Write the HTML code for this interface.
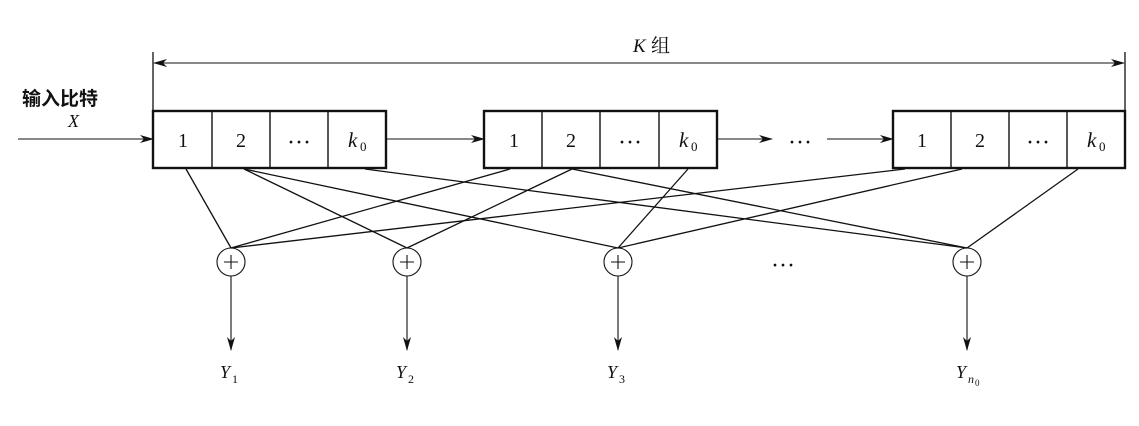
<!DOCTYPE html>
<html><head><meta charset="utf-8"><style>
html,body{margin:0;padding:0;background:#fff;}
svg text{font-family:"Liberation Serif","Noto Serif CJK SC",serif;fill:#111;}
</style></head><body>
<svg width="1139" height="421" viewBox="0 0 1139 421" xmlns="http://www.w3.org/2000/svg">
<defs>
<marker id="a" markerWidth="14" markerHeight="8" refX="13" refY="4" orient="auto" markerUnits="userSpaceOnUse">
<path d="M0,0 L14,4 L0,8 L4,4 Z" fill="#111"/></marker>
</defs>
<g stroke="#111" fill="none">
<line x1="153" y1="52" x2="153" y2="111" stroke-width="1.3"/>
<line x1="1125" y1="52" x2="1125" y2="111" stroke-width="1.3"/>
<line x1="660" y1="63" x2="154" y2="63" stroke-width="1.1" marker-end="url(#a)"/>
<line x1="660" y1="63" x2="1124" y2="63" stroke-width="1.1" marker-end="url(#a)"/>
<g stroke-width="2.4">
<rect x="153" y="111" width="233" height="57"/>
<rect x="484" y="111" width="233" height="57"/>
<rect x="893" y="111" width="232" height="57"/>
</g>
<g stroke-width="1.4">
<line x1="212" y1="111" x2="212" y2="168"/><line x1="270" y1="111" x2="270" y2="168"/><line x1="328" y1="111" x2="328" y2="168"/>
<line x1="542" y1="111" x2="542" y2="168"/><line x1="600" y1="111" x2="600" y2="168"/><line x1="659" y1="111" x2="659" y2="168"/>
<line x1="951" y1="111" x2="951" y2="168"/><line x1="1009" y1="111" x2="1009" y2="168"/><line x1="1067" y1="111" x2="1067" y2="168"/>
</g>
<g stroke-width="1.1">
<line x1="18" y1="139" x2="153" y2="139" marker-end="url(#a)"/>
<line x1="386" y1="139" x2="484" y2="139" marker-end="url(#a)"/>
<line x1="717" y1="139" x2="772" y2="139" marker-end="url(#a)"/>
<line x1="827" y1="139" x2="893" y2="139" marker-end="url(#a)"/>
</g>
<g stroke-width="1.3">
<line x1="186" y1="169" x2="231" y2="248"/>
<line x1="510" y1="169" x2="231" y2="248"/>
<line x1="905" y1="169" x2="231" y2="248"/>
<line x1="244" y1="169" x2="407" y2="248"/>
<line x1="572" y1="169" x2="407" y2="248"/>
<line x1="244" y1="169" x2="618" y2="248"/>
<line x1="688" y1="169" x2="618" y2="248"/>
<line x1="962" y1="169" x2="618" y2="248"/>
<line x1="365" y1="169" x2="967" y2="248"/>
<line x1="572" y1="169" x2="967" y2="248"/>
<line x1="1078" y1="169" x2="967" y2="248"/>
</g>
<g stroke-width="1.1">
<circle cx="231" cy="262" r="14"/><circle cx="407" cy="262" r="14"/><circle cx="618" cy="262" r="14"/><circle cx="967" cy="262" r="14"/>
<path d="M224,262h14M231,255v14M400,262h14M407,255v14M611,262h14M618,255v14M960,262h14M967,255v14"/>
<line x1="231" y1="276" x2="231" y2="350" marker-end="url(#a)"/>
<line x1="407" y1="276" x2="407" y2="350" marker-end="url(#a)"/>
<line x1="618" y1="276" x2="618" y2="350" marker-end="url(#a)"/>
<line x1="967" y1="276" x2="967" y2="350" marker-end="url(#a)"/>
</g>
</g>
<text x="633" y="52" font-size="19" font-style="italic">K</text>
<text x="651" y="52" font-size="19">组</text>
<text x="22" y="105" font-size="19" font-weight="bold" style="font-family:'Noto Sans CJK SC',sans-serif">输入比特</text>
<text x="68" y="127" font-size="18" font-style="italic">X</text>
<g font-size="20" text-anchor="middle">
<text x="183" y="147">1</text><text x="241" y="147">2</text>
<text x="514" y="147">1</text><text x="571" y="147">2</text>
<text x="922" y="147">1</text><text x="980" y="147">2</text>
</g>
<g font-size="24" text-anchor="middle">
<text x="299" y="150">···</text><text x="630" y="150">···</text><text x="1038" y="150">···</text>
<text x="800" y="150">···</text>
<text x="783" y="273">···</text>
</g>
<g font-size="21" font-style="italic">
<text x="348" y="147">k</text><text x="679" y="147">k</text><text x="1087" y="147">k</text>
</g>
<g font-size="13"><text x="360" y="151">0</text><text x="691" y="151">0</text><text x="1099" y="151">0</text></g>
<g font-size="18" font-style="italic">
<text x="220" y="378">Y</text><text x="396" y="378">Y</text><text x="607" y="378">Y</text><text x="956" y="378">Y</text>
</g>
<g font-size="12"><text x="232" y="383">1</text><text x="408" y="383">2</text><text x="619" y="383">3</text></g>
<text x="968" y="383" font-size="12" font-style="italic">n</text><text x="975" y="386" font-size="9">0</text>
</svg>
</body></html>
